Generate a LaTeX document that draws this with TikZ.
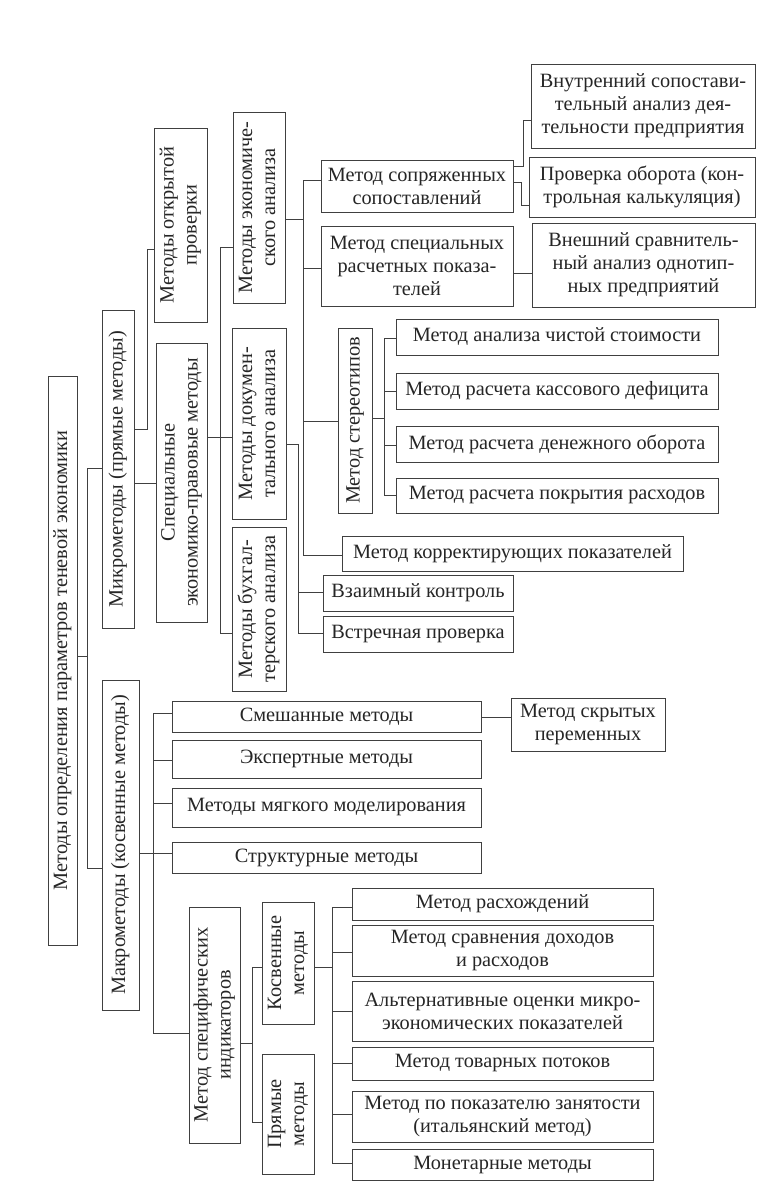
\documentclass[tikz,border=0pt]{standalone}
\usepackage{fontspec}
\setmainfont{Liberation Serif}
\usepackage{graphicx}
\newcommand\myfs{\fontsize{20.3}{23}\selectfont}
\tikzset{
  box/.style={draw=black!75, line width=0.9pt, inner sep=0pt, align=center, font=\myfs, text=black!85},
  conn/.style={draw=black!75, line width=0.9pt}
}
\newcommand\mybox[6]{\node[box,minimum width={(#4-#2)*1pt},minimum height={(#5-#3)*1pt}] (#1) at ({(#2+#4)/2},{(#3+#5)/2}) {#6};}
\newcommand\myrbox[6]{\node[box,minimum width={(#4-#2)*1pt},minimum height={(#5-#3)*1pt}] (#1) at ({(#2+#4)/2},{(#3+#5)/2}) {\rotatebox{90}{\renewcommand\arraystretch{1}\begin{tabular}{@{}c@{}}#6\end{tabular}}};}
\begin{document}
\begin{tikzpicture}[x={(1pt,0)}, y={(0,-1pt)}]
\fill[white] (0,0) rectangle (757,1197);
\useasboundingbox (0,0) rectangle (757,1197);
% vertical boxes
\myrbox{root}{48}{376}{77}{945}{Методы определения параметров теневой экономики}
\myrbox{micro}{102}{310}{134}{628}{Микрометоды (прямые методы)}
\myrbox{macro}{102}{680}{139}{1010}{Макрометоды (косвенные методы)}
\myrbox{open}{154}{128}{207}{322}{Методы открытой\\проверки}
\myrbox{special}{156}{343}{207}{622}{Специальные\\экономико-правовые методы}
\myrbox{econ}{233}{112}{285}{303}{Методы экономиче-\\ского анализа}
\myrbox{docs}{232}{328}{286}{519}{Методы докумен-\\тального анализа}
\myrbox{buh}{232}{527}{286}{691}{Методы бухгал-\\терского анализа}
\myrbox{stereo}{338}{328}{372}{513}{Метод стереотипов}
\myrbox{specind}{189}{907}{240}{1143}{Метод специфических\\индикаторов}
\myrbox{kosv}{262}{902}{314}{1024}{Косвенные\\методы}
\myrbox{pryam}{262}{1054}{314}{1174}{Прямые\\методы}
% horizontal boxes
\mybox{conj}{321}{160}{513}{212}{Метод сопряженных\\сопоставлений}
\mybox{spcalc}{321}{226}{513}{306}{Метод специальных\\расчетных показа-\\телей}
\mybox{inner}{531}{64}{755}{148}{Внутренний сопостави-\\тельный анализ дея-\\тельности предприятия}
\mybox{prov}{529}{157}{755}{217}{Проверка оборота (кон-\\трольная калькуляция)}
\mybox{vnesh}{532}{223}{755}{307}{Внешний сравнитель-\\ный анализ однотип-\\ных предприятий}
\mybox{sa}{396}{319}{718}{355}{Метод анализа чистой стоимости}
\mybox{sb}{396}{373}{718}{409}{Метод расчета кассового дефицита}
\mybox{sc}{396}{426}{718}{462}{Метод расчета денежного оборота}
\mybox{sd}{396}{478}{718}{513}{Метод расчета покрытия расходов}
\mybox{korrekt}{342}{536}{683}{571}{Метод корректирующих показателей}
\mybox{vzaim}{323}{575}{513}{611}{Взаимный контроль}
\mybox{vstrech}{323}{616}{513}{652}{Встречная проверка}
\mybox{mixed}{172}{701}{481}{732}{Смешанные методы}
\mybox{expert}{172}{740}{481}{778}{Экспертные методы}
\mybox{soft}{172}{788}{481}{827}{Методы мягкого моделирования}
\mybox{struct}{172}{842}{481}{873}{Структурные методы}
\mybox{hidden}{511}{698}{665}{751}{Метод скрытых\\переменных}
\mybox{ba}{352}{888}{653}{920}{Метод расхождений}
\mybox{bb}{352}{925}{653}{976}{Метод сравнения доходов\\и расходов}
\mybox{bc}{352}{981}{653}{1041}{Альтернативные оценки микро-\\экономических показателей}
\mybox{bd}{352}{1047}{653}{1080}{Метод товарных потоков}
\mybox{be}{352}{1091}{653}{1142}{Метод по показателю занятости\\(итальянский метод)}
\mybox{bf}{352}{1149}{653}{1180}{Монетарные методы}
% connectors
\draw[conn] (root.east |- 0,656) -- (87,656);
\draw[conn] (micro.west |- 0,468) -| (87,868) -- (macro.west |- 0,868);
\draw[conn] (micro.east |- 0,429) -| (147,249) -- (open.west |- 0,249);
\draw[conn] (micro.east |- 0,483) -- (special.west |- 0,483);
\draw[conn] (special.east |- 0,437) -- (docs.west |- 0,437);
\draw[conn] (econ.west |- 0,247) -| (220,633) -- (buh.west |- 0,633);
\draw[conn] (econ.east |- 0,219) -- (303,219);
\draw[conn] (conj.west |- 0,180) -| (303,555) -- (korrekt.west |- 0,555);
\draw[conn] (303,268) -- (spcalc.west |- 0,268);
\draw[conn] (303,421) -- (stereo.west |- 0,421);
\draw[conn] (docs.east |- 0,444) -| (298,633) -- (vstrech.west |- 0,633);
\draw[conn] (298,592) -- (vzaim.west |- 0,592);
\draw[conn] (conj.east |- 0,166) -| (523,120) -- (inner.west |- 0,120);
\draw[conn] (conj.east |- 0,182) -| (521,205) -- (prov.west |- 0,205);
\draw[conn] (spcalc.east |- 0,273) -- (vnesh.west |- 0,273);
\draw[conn] (stereo.east |- 0,418) -- (384,418);
\draw[conn] (sa.west |- 0,338) -| (384,495) -- (sd.west |- 0,495);
\draw[conn] (384,391) -- (sb.west |- 0,391);
\draw[conn] (384,445) -- (sc.west |- 0,445);
\draw[conn] (macro.east |- 0,853) -- (struct.west |- 0,853);
\draw[conn] (mixed.west |- 0,713) -| (153,1033) -- (specind.west |- 0,1033);
\draw[conn] (153,760) -- (expert.west |- 0,760);
\draw[conn] (153,803) -- (soft.west |- 0,803);
\draw[conn] (mixed.east |- 0,717) -- (hidden.west |- 0,717);
\draw[conn] (specind.east |- 0,1043) -- (252,1043);
\draw[conn] (kosv.west |- 0,967) -| (252,1122) -- (pryam.west |- 0,1122);
\draw[conn] (kosv.east |- 0,967) -- (332,967);
\draw[conn] (ba.west |- 0,907) -| (332,1163) -- (bf.west |- 0,1163);
\draw[conn] (332,952) -- (bb.west |- 0,952);
\draw[conn] (332,1011) -- (bc.west |- 0,1011);
\draw[conn] (332,1063) -- (bd.west |- 0,1063);
\draw[conn] (332,1114) -- (be.west |- 0,1114);
\end{tikzpicture}
\end{document}
